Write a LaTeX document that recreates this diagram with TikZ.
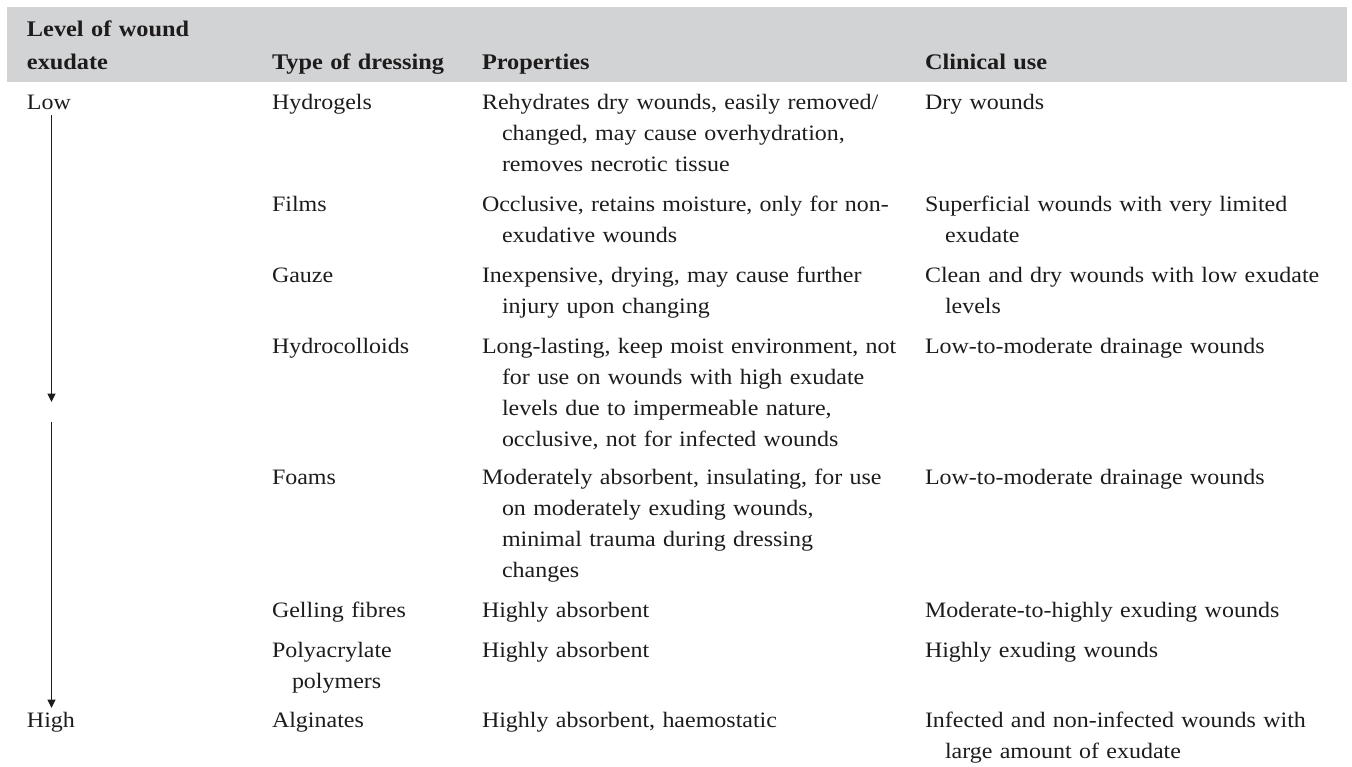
\documentclass[tikz,border=0pt]{standalone}
\usepackage{fontspec}
\setmainfont{Liberation Serif}[FakeStretch=1.09]
\usetikzlibrary{arrows.meta}
\setlength{\parindent}{0pt}
\definecolor{band}{RGB}{209,211,212}
\definecolor{ink}{RGB}{30,27,28}
\newcommand{\hi}{\hspace*{20pt}}
\newcommand{\cellfont}{\fontsize{22}{31}\selectfont}
\newcommand{\headfont}{\fontsize{22.3}{33}\selectfont\bfseries}
\begin{document}
\begin{tikzpicture}[x=1pt,y=-1pt,
  cell/.style={anchor=north west, inner sep=0pt, outer sep=0pt, align=left,
    font=\cellfont, text=ink, yshift=21.7pt},
  head/.style={anchor=north west, inner sep=0pt, outer sep=0pt, align=left,
    font=\headfont, text=ink, yshift=23.1pt},
  c1/.style={cell, text width=200pt},
  c2/.style={cell, text width=200pt},
  c3/.style={cell, text width=440pt},
  c4/.style={cell, text width=425pt},
  conn/.style={draw=ink, line width=1.2pt, -{Triangle[width=8pt,length=8.5pt]}}]
\useasboundingbox (0,0) rectangle (1352,767);
% header band
\fill[band] (7,7) rectangle (1347,82);
\node[head, text width=220pt] (h1) at (27,37) {\strut Level of wound\\exudate};
\node[head, text width=200pt] (h2) at (272,70) {\strut Type of dressing};
\node[head, text width=200pt] (h3) at (482,70) {\strut Properties};
\node[head, text width=200pt] (h4) at (925,70) {\strut Clinical use};
% row 1
\node[c1] (low) at (27,110) {\strut Low};
\node[c2] (r1b) at (272,110) {\strut Hydrogels};
\node[c3] (r1c) at (482,110) {\strut Rehydrates dry wounds, easily removed/\\\hi changed, may cause overhydration,\\\hi removes necrotic tissue};
\node[c4] (r1d) at (925,110) {\strut Dry wounds};
% row 2
\node[c2] (r2b) at (272,212) {\strut Films};
\node[c3] (r2c) at (482,212) {\strut Occlusive, retains moisture, only for non-\\\hi exudative wounds};
\node[c4] (r2d) at (925,212) {\strut Superficial wounds with very limited\\\hi exudate};
% row 3
\node[c2] (r3b) at (272,283) {\strut Gauze};
\node[c3] (r3c) at (482,283) {\strut Inexpensive, drying, may cause further\\\hi injury upon changing};
\node[c4] (r3d) at (925,283) {\strut Clean and dry wounds with low exudate\\\hi levels};
% row 4
\node[c2] (r4b) at (272,353) {\strut Hydrocolloids};
\node[c3] (r4c) at (482,353) {\strut Long-lasting, keep moist environment, not\\\hi for use on wounds with high exudate\\\hi levels due to impermeable nature,\\\hi occlusive, not for infected wounds};
\node[c4] (r4d) at (925,353) {\strut Low-to-moderate drainage wounds};
% row 5
\node[c2] (r5b) at (272,484) {\strut Foams};
\node[c3] (r5c) at (482,484) {\strut Moderately absorbent, insulating, for use\\\hi on moderately exuding wounds,\\\hi minimal trauma during dressing\\\hi changes};
\node[c4] (r5d) at (925,484) {\strut Low-to-moderate drainage wounds};
% row 6
\node[c2] (r6b) at (272,617) {\strut Gelling fibres};
\node[c3] (r6c) at (482,617) {\strut Highly absorbent};
\node[c4] (r6d) at (925,617) {\strut Moderate-to-highly exuding wounds};
% row 7
\node[c2] (r7b) at (272,657) {\strut Polyacrylate\\\hi polymers};
\node[c3] (r7c) at (482,657) {\strut Highly absorbent};
\node[c4] (r7d) at (925,657) {\strut Highly exuding wounds};
% row 8
\node[c1] (high) at (27,727) {\strut High};
\node[c2] (r8b) at (272,727) {\strut Alginates};
\node[c3] (r8c) at (482,727) {\strut Highly absorbent, haemostatic};
\node[c4] (r8d) at (925,727) {\strut Infected and non-infected wounds with\\\hi large amount of exudate};
% arrows
\coordinate (a1s) at (51.5,115);
\coordinate (a1e) at (51.5,402);
\coordinate (a2s) at (51.5,422);
\coordinate (a2e) at (51.5,708);
\draw[conn] (a1s) -- (a1e);
\draw[conn] (a2s) -- (a2e);
\end{tikzpicture}
\end{document}
